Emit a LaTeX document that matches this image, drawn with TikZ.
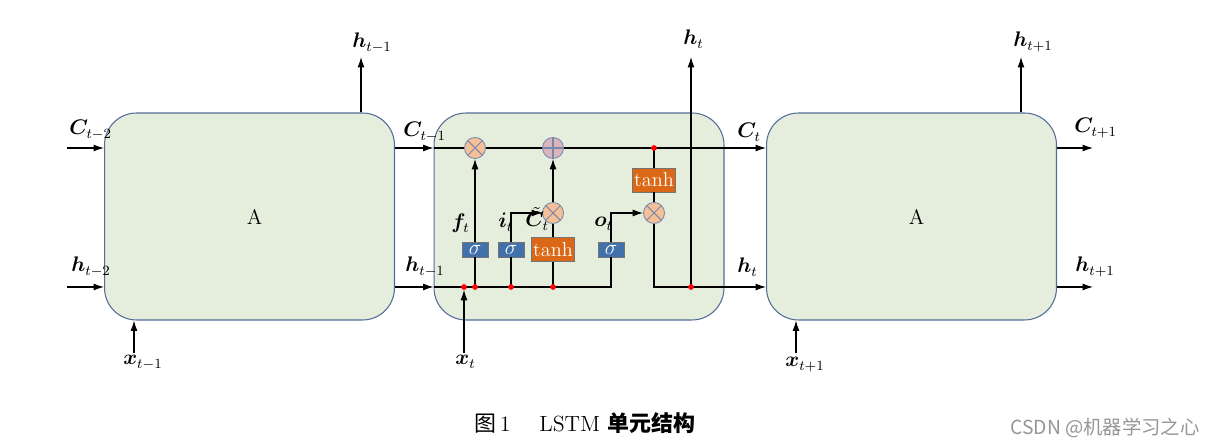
\documentclass[tikz,border=0pt]{standalone}
\usepackage{amsmath,bm}
\usepackage{fontspec}
\newfontfamily\cjk{Noto Sans CJK SC}
\usetikzlibrary{arrows.meta,calc,positioning}
\definecolor{cellgreen}{RGB}{229,237,220}
\definecolor{celledge}{RGB}{84,108,152}
\definecolor{mulpeach}{RGB}{245,192,152}
\definecolor{addpink}{RGB}{222,180,188}
\definecolor{gateblue}{RGB}{66,112,170}
\definecolor{tanhorange}{RGB}{218,104,22}
\definecolor{markgray}{RGB}{150,150,150}
\tikzset{
  >={Latex[length=2.1mm,width=1.4mm]},
  flow/.style={->,draw=black,line width=0.6pt},
  flowline/.style={draw=black,line width=0.6pt},
  cell/.style={
    draw=celledge,
    fill=cellgreen,
    rounded corners=0.64cm,
    minimum width=5.8cm,
    minimum height=4.14cm,
    line width=0.6pt,
    font=\fontsize{12}{14}\selectfont
  },
  mulop/.style={
    circle,
    draw=celledge!80,
    fill=mulpeach,
    minimum size=0.42cm,
    inner sep=0pt,
    line width=0.5pt,
    path picture={
      \draw[line width=0.6pt]
        (path picture bounding box.north west) -- (path picture bounding box.south east)
        (path picture bounding box.north east) -- (path picture bounding box.south west);
    }
  },
  addop/.style={
    mulop,
    fill=addpink,
    path picture={
      \draw[line width=0.6pt]
        (path picture bounding box.north) -- (path picture bounding box.south)
        (path picture bounding box.west) -- (path picture bounding box.east);
    }
  },
  gate/.style={
    draw=black!55,
    fill=gateblue,
    rectangle,
    minimum width=0.52cm,
    minimum height=0.30cm,
    inner sep=0pt,
    text=white,
    font=\fontsize{12}{12}\selectfont
  },
  tanhbox/.style={
    draw=black!55,
    fill=tanhorange,
    rectangle,
    minimum width=0.86cm,
    minimum height=0.48cm,
    inner sep=0pt,
    text=white,
    font=\fontsize{11.5}{12}\selectfont
  },
  junction/.style={circle,fill=red,minimum size=1.15mm,inner sep=0pt},
  lbl/.style={font=\fontsize{12}{14}\selectfont,anchor=base west,inner sep=0pt}
}

\begin{document}
\begin{tikzpicture}[x=0.02cm,y=-0.02cm]
  \fill[white] (0,0) rectangle (1217,448);
  \useasboundingbox (0,0) rectangle (1217,448);

  % Cells
  \node[cell] (cellL) at (249.5,216.5) {\hspace*{0.2cm}A};
  \node[cell] (cellM) at (579,216.5) {};
  \node[cell] (cellR) at (911.5,216.5) {\hspace*{0.2cm}A};

  % Rails and free ends
  \coordinate (Cin) at (67,148);
  \coordinate (hin) at (67,287);
  \coordinate (Cout) at (1093,148);
  \coordinate (hout) at (1093,287);
  \coordinate (hLtop) at (361,57);
  \coordinate (hMtop) at (691,57);
  \coordinate (hRtop) at (1021,57);
  \coordinate (xLin) at (134,353);
  \coordinate (xMin) at (464,353);
  \coordinate (xRin) at (796,353);

  % Junctions
  \coordinate (xj) at (464,287);
  \coordinate (fj) at (475,287);
  \coordinate (ij) at (511,287);
  \coordinate (gj) at (553,287);
  \coordinate (cj) at (654,148);
  \coordinate (hj) at (691,287);

  % Operators and gates
  \node[mulop] (fmul) at (475,148) {};
  \node[addop] (cadd) at (553,148) {};
  \node[mulop] (imul) at (553,213) {};
  \node[mulop] (omul) at (654,213) {};
  \node[tanhbox] (tanhc) at (654,180) {tanh};
  \node[gate] (fgate) at (475,249.5) {$\sigma$};
  \node[gate] (igate) at (511,249.5) {$\sigma$};
  \node[tanhbox] (ggate) at (553,249.5) {tanh};
  \node[gate] (ogate) at (611,249.5) {$\sigma$};

  % Outer connections
  \draw[flow] (Cin) -- (Cin -| cellL.west);
  \draw[flow] (hin) -- (hin -| cellL.west);
  \draw[flow] (Cin -| cellL.east) -- (Cin -| cellM.west);
  \draw[flow] (hin -| cellL.east) -- (hin -| cellM.west);
  \draw[flow] (hLtop |- cellL.north) -- (hLtop);
  \draw[flow] (xLin) -- (xLin |- cellL.south);
  \draw[flow] (Cin -| cellR.east) -- (Cout);
  \draw[flow] (hin -| cellR.east) -- (hout);
  \draw[flow] (hRtop |- cellR.north) -- (hRtop);
  \draw[flow] (xRin) -- (xRin |- cellR.south);

  % Inside the middle cell
  \draw[flow] (Cin -| cellM.west) -- (fmul) -- (cadd) -- (Cin -| cellR.west);
  \draw[flowline] (hin -| cellM.west) -- (hin -| ogate) -- (ogate);
  \draw[flowline] (fj) -- (fgate);
  \draw[flow] (fgate) -- (fmul);
  \draw[flowline] (ij) -- (igate);
  \draw[flow] (igate) |- (imul);
  \draw[flowline] (gj) -- (ggate);
  \draw[flowline] (ggate) -- (imul);
  \draw[flow] (imul) -- (cadd);
  \draw[flow] (ogate) |- (omul);
  \draw[flowline] (cj) -- (tanhc);
  \draw[flowline] (tanhc) -- (omul);
  \draw[flow] (omul) |- (hin -| cellR.west);
  \draw[flow] (hj) -- (hMtop);
  \draw[flow,shorten >=1.6pt] (xMin) -- (xj);

  \foreach \j in {xj,fj,ij,gj,cj,hj}
    \node[junction] (\j dot) at (\j) {};

  % Labels
  \node[lbl] (lblCa) at (69,135) {$\bm{C}_{t-2}$};
  \node[lbl] (lblha) at (71,272) {$\bm{h}_{t-2}$};
  \node[lbl] (lblhb) at (352,48) {$\bm{h}_{t-1}$};
  \node[lbl] (lblxa) at (123,365) {$\bm{x}_{t-1}$};
  \node[lbl] (lblCb) at (403,137) {$\bm{C}_{t-1}$};
  \node[lbl] (lblhc) at (405,272) {$\bm{h}_{t-1}$};
  \node[lbl] (lblhd) at (683,45) {$\bm{h}_{t}$};
  \node[lbl] (lblxb) at (455,365) {$\bm{x}_{t}$};
  \node[lbl] (lblCc) at (737,138) {$\bm{C}_{t}$};
  \node[lbl] (lblhe) at (737,273) {$\bm{h}_{t}$};
  \node[lbl] (lblf) at (451,229) {$\bm{f}_{t}$};
  \node[lbl] (lbli) at (498,228) {$\bm{i}_{t}$};
  \node[lbl] (lblg) at (525,227) {$\tilde{\bm{C}}_{t}$};
  \node[lbl] (lblo) at (594,227) {$\bm{o}_{t}$};
  \node[lbl] (lblhf) at (1013,47) {$\bm{h}_{t+1}$};
  \node[lbl] (lblCd) at (1074,133) {$\bm{C}_{t+1}$};
  \node[lbl] (lblhg) at (1075,272) {$\bm{h}_{t+1}$};
  \node[lbl] (lblxc) at (785,367) {$\bm{x}_{t+1}$};

  % Caption
  \node[anchor=base west,inner sep=0pt,font=\fontsize{12.5}{14}\selectfont] (capnum)
    at (474,432) {{\cjk 图}\,1};
  \node[anchor=base west,inner sep=0pt,font=\fontsize{12.5}{14}\selectfont] (captext)
    at (539,432) {LSTM {\cjk\bfseries 单元结构}};
  \node[anchor=base west,inner sep=0pt,text=markgray,font=\fontsize{11}{13}\selectfont] (mark)
    at (1010,435) {\cjk CSDN @机器学习之心};
\end{tikzpicture}
\end{document}
